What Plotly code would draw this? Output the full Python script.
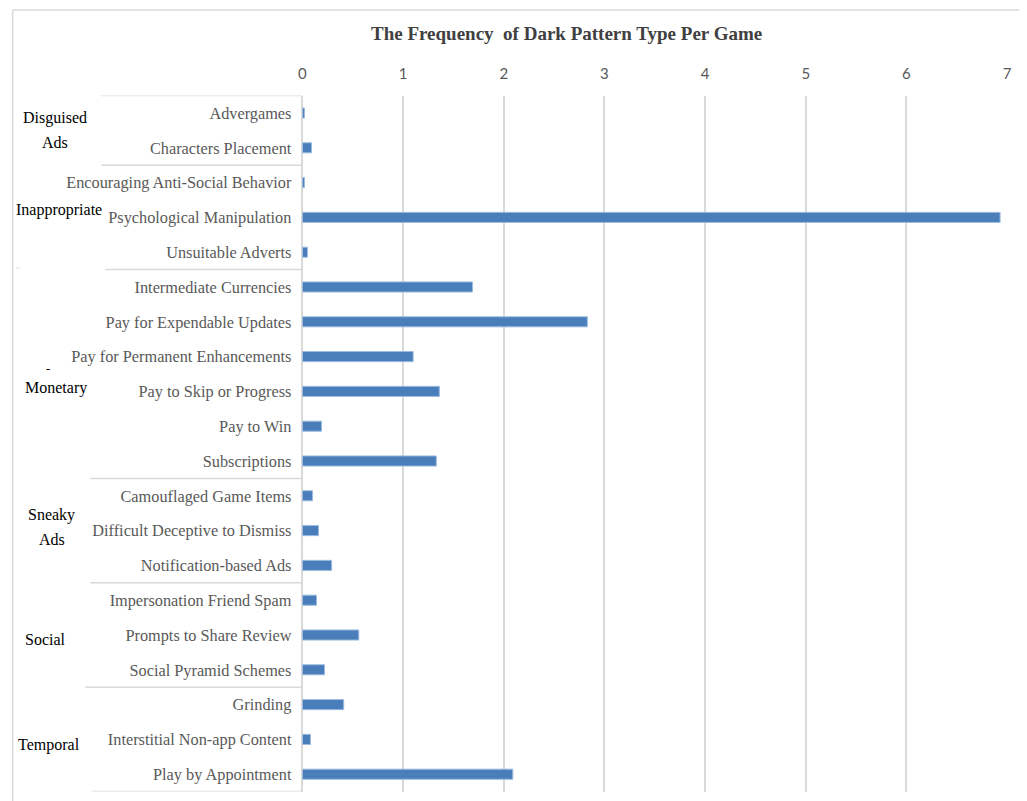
import plotly.graph_objects as go

# ---------------- data ----------------
categories = [
    "Advergames", "Characters Placement",
    "Encouraging Anti-Social Behavior", "Psychological Manipulation", "Unsuitable Adverts",
    "Intermediate Currencies", "Pay for Expendable Updates", "Pay for Permanent Enhancements",
    "Pay to Skip or Progress", "Pay to Win", "Subscriptions",
    "Camouflaged Game Items", "Difficult Deceptive to Dismiss", "Notification-based Ads",
    "Impersonation Friend Spam", "Prompts to Share Review", "Social Pyramid Schemes",
    "Grinding", "Interstitial Non-app Content", "Play by Appointment",
]
values = [
    0.02, 0.09,
    0.02, 6.93, 0.05,
    1.69, 2.83, 1.10, 1.36, 0.19, 1.33,
    0.10, 0.16, 0.29,
    0.14, 0.56, 0.22,
    0.41, 0.08, 2.09,
]
group_names = ["Disguised", "Inappropriate", "Monetary", "Sneaky", "Social", "Temporal"]
group_sizes = [2, 3, 6, 3, 3, 3]
x_ticks = [0, 1, 2, 3, 4, 5, 6, 7]
title_text = "The Frequency\u00a0 of Dark Pattern Type Per Game"

# ---------------- layout helpers ----------------
OFF = 8  # page body margin
W, H = 1027 - OFF, 801 - OFF
def px(x):
    return (x - OFF) / W
def py(y):
    return 1 - (y - OFF) / H

SERIF = "Times New Roman, Liberation Serif, serif"
GRID = "#d9d9d9"

fig = go.Figure()
fig.add_trace(go.Bar(
    x=values, y=categories, orientation="h",
    marker=dict(color="#4a7ebb", line=dict(color="#9dbbe0", width=1)),
    hoverinfo="x+y",
))

# separators between groups (row boundaries, in data coords of y)
sep_starts = [98, 98, 102, 87, 87, 82, 88]
bounds = [-0.5]
acc = -0.5
for s in group_sizes:
    acc += s
    bounds.append(acc)
shapes = []
for b, xs in zip(bounds, sep_starts):
    shapes.append(dict(type="line", xref="paper", yref="y",
                       x0=px(xs), x1=px(301), y0=b, y1=b,
                       line=dict(color=GRID, width=1.5), layer="below"))
# outer border (top and left)
shapes.append(dict(type="line", xref="paper", yref="paper", x0=px(8.7), x1=1, y0=py(10), y1=py(10),
                   line=dict(color=GRID, width=1.5)))
shapes.append(dict(type="line", xref="paper", yref="paper", x0=px(8.7), x1=px(8.7), y0=py(10), y1=0,
                   line=dict(color=GRID, width=1.5)))
# small stray mark
shapes.append(dict(type="line", xref="paper", yref="paper", x0=px(12), x1=px(16), y0=py(268), y1=py(268),
                   line=dict(color=GRID, width=1)))

annotations = []
def lab(text, x, y, color="black", size=16):
    annotations.append(dict(text=text, xref="paper", yref="paper", x=px(x), y=py(y),
                            xanchor="center", yanchor="middle", showarrow=False,
                            font=dict(family=SERIF, size=size, color=color)))

lab("Disguised", 51, 118)
lab("Ads", 51, 142)
lab("Inappropriate", 55, 210)
lab("-", 44, 369, size=13)
lab("Monetary", 52, 388)
lab("Sneaky", 48, 515)
lab("Ads", 48, 539)
lab("Social", 42, 639)
lab("Temporal", 45, 745)

annotations.append(dict(text="<b>" + title_text + "</b>", xref="paper", yref="paper",
                        x=px(567), y=py(33), xanchor="center", yanchor="middle", showarrow=False,
                        font=dict(family=SERIF, size=19, color="#404040")))

fig.update_layout(
    width=W, height=H,
    margin=dict(l=0, r=0, t=0, b=0),
    paper_bgcolor="white", plot_bgcolor="white",
    bargap=0.71,
    showlegend=False,
    shapes=shapes,
    annotations=annotations,
    xaxis=dict(
        side="top", range=[0, 7], tickvals=x_ticks,
        domain=[px(301), px(1012)],
        showgrid=True, gridcolor=GRID, gridwidth=1.5,
        zeroline=True, zerolinecolor=GRID, zerolinewidth=1.5,
        showline=False,
        ticklabelstandoff=13,
        tickfont=dict(family="Lato, Open Sans, sans-serif", size=15, color="#595959"),
    ),
    yaxis=dict(
        type="category", categoryorder="array", categoryarray=categories,
        range=[19.5, -0.5],
        domain=[py(791.6), py(95.6)],
        showgrid=False, zeroline=False, showline=False,
        ticklabelstandoff=10,
        tickfont=dict(family=SERIF, size=16.3, color="#595959"),
    ),
)

fig.write_html("out.html")
